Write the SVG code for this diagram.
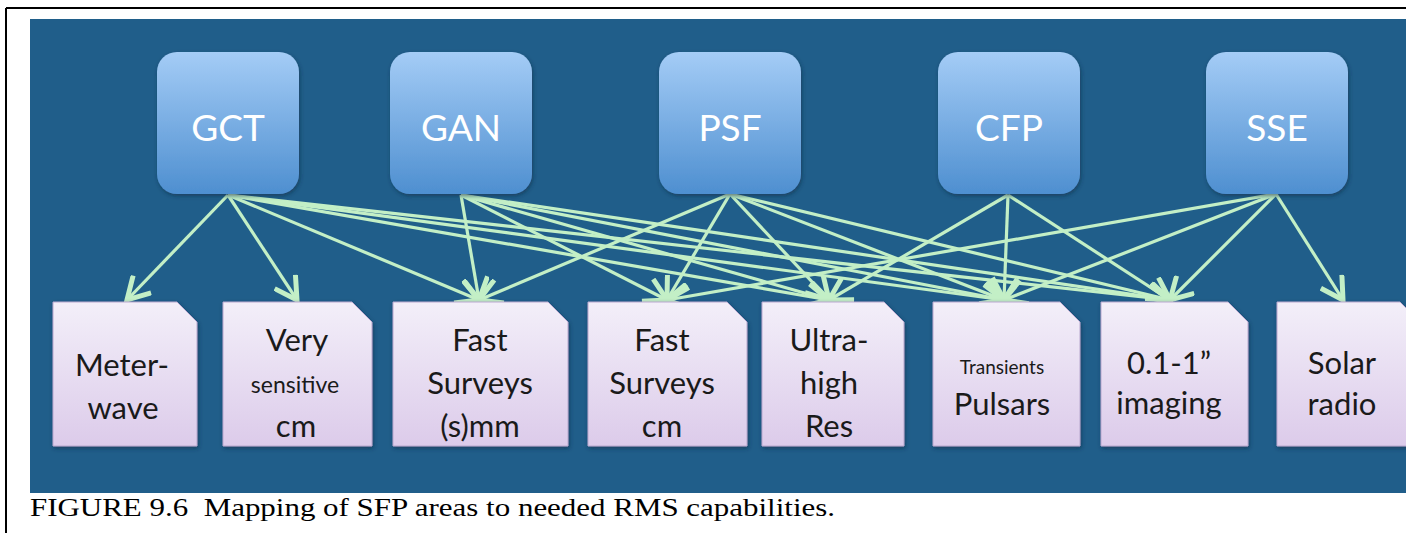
<svg xmlns="http://www.w3.org/2000/svg" width="1406" height="533" viewBox="0 0 1406 533">
<style>
.top text{font-family:Lato,"Open Sans",sans-serif;font-size:37px;fill:#ffffff;text-anchor:middle}
.bot text{font-family:Lato,"Open Sans",sans-serif;font-size:31px;fill:#1a1a1a;text-anchor:middle}
.bot text.sm{font-size:23px}
.bot text.xs{font-size:19px}
.tbox{fill:url(#gTop)}
.bbox{fill:url(#gBot);stroke:#b9a8cf;stroke-width:1}
#edges line{stroke:#c3efc6;stroke-width:3.2;marker-end:url(#ah)}
.cap{font-family:"Liberation Serif",serif;font-size:26px;fill:#000;white-space:pre}
</style>
<defs>
<linearGradient id="gTop" x1="0" y1="0" x2="0" y2="1">
<stop offset="0" stop-color="#a4ccf6"/>
<stop offset="1" stop-color="#4e8fd0"/>
</linearGradient>
<linearGradient id="gBot" x1="0" y1="0" x2="0" y2="1">
<stop offset="0" stop-color="#f3eff9"/>
<stop offset="1" stop-color="#dccbea"/>
</linearGradient>
<filter id="sh" x="-10%" y="-10%" width="130%" height="130%">
<feDropShadow dx="1" dy="2" stdDeviation="2" flood-color="#0a2a45" flood-opacity="0.6"/>
</filter>
<marker id="ah" markerUnits="userSpaceOnUse" markerWidth="28" markerHeight="28" refX="16" refY="9" orient="auto" viewBox="0 0 18 18">
<path d="M2,1 L16,9 L2,17" fill="none" stroke="#c3efc6" stroke-width="3.2" stroke-linejoin="miter"/>
</marker>
</defs>
<rect x="0" y="0" width="1406" height="533" fill="#ffffff"/>
<line x1="6" y1="8" x2="1406" y2="8" stroke="#000" stroke-width="2"/>
<line x1="6" y1="8" x2="6" y2="533" stroke="#000" stroke-width="2"/>
<rect x="30" y="19" width="1390" height="474" fill="#205e8a"/>

<g id="edges">
<line x1="228" y1="195" x2="127" y2="300"/>
<line x1="228" y1="195" x2="297" y2="300"/>
<line x1="228" y1="195" x2="479" y2="300"/>
<line x1="228" y1="195" x2="829" y2="300"/>
<line x1="228" y1="195" x2="1004" y2="300"/>
<line x1="228" y1="195" x2="1170" y2="300"/>
<line x1="461" y1="195" x2="479" y2="300"/>
<line x1="461" y1="195" x2="667" y2="300"/>
<line x1="461" y1="195" x2="829" y2="300"/>
<line x1="461" y1="195" x2="1004" y2="300"/>
<line x1="461" y1="195" x2="1170" y2="300"/>
<line x1="730" y1="194" x2="479" y2="300"/>
<line x1="730" y1="194" x2="667" y2="300"/>
<line x1="730" y1="194" x2="829" y2="300"/>
<line x1="730" y1="194" x2="1004" y2="300"/>
<line x1="730" y1="194" x2="1170" y2="300"/>
<line x1="1008" y1="195" x2="829" y2="300"/>
<line x1="1008" y1="195" x2="1004" y2="300"/>
<line x1="1008" y1="195" x2="1170" y2="300"/>
<line x1="1276" y1="194" x2="667" y2="300"/>
<line x1="1276" y1="194" x2="1004" y2="300"/>
<line x1="1276" y1="194" x2="1170" y2="300"/>
<line x1="1276" y1="194" x2="1343" y2="300"/>
</g>

<g class="top">
<g id="gct"><rect class="tbox" filter="url(#sh)" x="157" y="52" width="142" height="142" rx="20"/><text x="228" y="141">GCT</text></g>
<g id="gan"><rect class="tbox" filter="url(#sh)" x="390" y="52" width="142" height="142" rx="20"/><text x="461" y="141">GAN</text></g>
<g id="psf"><rect class="tbox" filter="url(#sh)" x="659" y="52" width="142" height="142" rx="20"/><text x="730" y="141">PSF</text></g>
<g id="cfp"><rect class="tbox" filter="url(#sh)" x="938" y="52" width="142" height="142" rx="20"/><text x="1009" y="141">CFP</text></g>
<g id="sse"><rect class="tbox" filter="url(#sh)" x="1206" y="52" width="142" height="142" rx="20"/><text x="1277" y="141">SSE</text></g>
</g>

<g class="bot">
<g id="meterwave"><path class="bbox" filter="url(#sh)" d="M53,302 H177 L197,322 V446 H53 Z"/><text x="122" y="376">Meter-</text><text x="123" y="419">wave</text></g>
<g id="verysensitive"><path class="bbox" filter="url(#sh)" d="M223,302 H352 L372,322 V446 H223 Z"/><text x="297" y="351">Very</text><text class="sm" x="295" y="393">sensitive</text><text x="296" y="437">cm</text></g>
<g id="fastmm"><path class="bbox" filter="url(#sh)" d="M393,302 H548 L568,322 V446 H393 Z"/><text x="480" y="351">Fast</text><text x="480" y="394">Surveys</text><text x="480" y="437">(s)mm</text></g>
<g id="fastcm"><path class="bbox" filter="url(#sh)" d="M588,302 H727 L747,322 V446 H588 Z"/><text x="662" y="351">Fast</text><text x="662" y="394">Surveys</text><text x="662" y="437">cm</text></g>
<g id="ultrahigh"><path class="bbox" filter="url(#sh)" d="M762,302 H884 L904,322 V446 H762 Z"/><text x="829" y="351">Ultra-</text><text x="829" y="394">high</text><text x="829" y="437">Res</text></g>
<g id="transients"><path class="bbox" filter="url(#sh)" d="M933,302 H1060 L1080,322 V446 H933 Z"/><text class="xs" x="1002" y="374">Transients</text><text x="1002" y="415">Pulsars</text></g>
<g id="imaging"><path class="bbox" filter="url(#sh)" d="M1101,302 H1228 L1248,322 V446 H1101 Z"/><text x="1169" y="374">0.1-1”</text><text x="1169" y="414">imaging</text></g>
<g id="solar"><path class="bbox" filter="url(#sh)" d="M1277,302 H1400 L1420,322 V446 H1277 Z"/><text x="1342" y="374">Solar</text><text x="1342" y="415">radio</text></g>
</g>

<text class="cap" x="30" y="516" textLength="805" lengthAdjust="spacingAndGlyphs">FIGURE 9.6  Mapping of SFP areas to needed RMS capabilities.</text>
</svg>
